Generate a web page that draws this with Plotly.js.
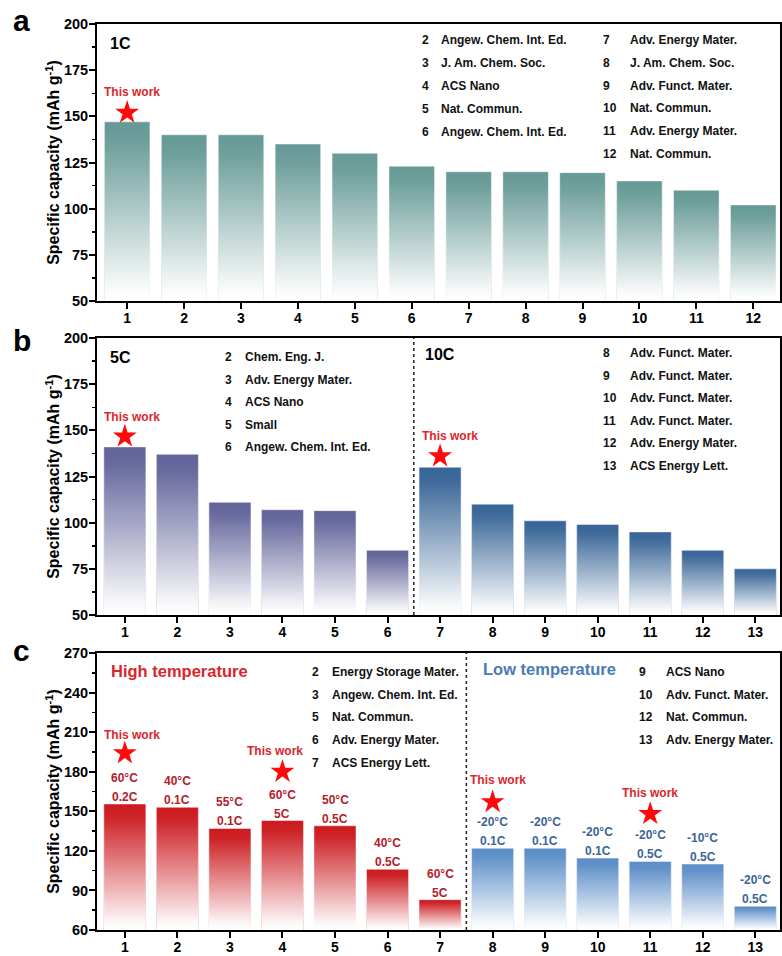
<!DOCTYPE html>
<html><head><meta charset="utf-8">
<script src="https://cdn.plot.ly/plotly-3.0.1.min.js"></script>
<style>html,body{margin:0;padding:0;background:#fff}#chart{width:782px;height:956px}</style>
</head><body><div id="chart"></div>
<script>
// ---------------- DATA ----------------
const xA = [1,2,3,4,5,6,7,8,9,10,11,12];
const valsA = [147,140,140,135,130,123,120,120,119.5,115,110,102];
const refNumA = ['2','3','4','5','6','7','8','9','10','11','12'];
const refNameA = ['Angew. Chem. Int. Ed.','J. Am. Chem. Soc.','ACS Nano','Nat. Commun.','Angew. Chem. Int. Ed.',
  'Adv. Energy Mater.','J. Am. Chem. Soc.','Adv. Funct. Mater.','Nat. Commun.','Adv. Energy Mater.','Nat. Commun.'];
const starA = {x:[1], y:[152]};
const workLabelA = {x:[1.09], y:[163]};

const xB = [1,2,3,4,5,6,7,8,9,10,11,12,13];
const valsB = [141,137,111,107,106.5,85,130,110,101,99,95,85,75];
const refNumB = ['2','3','4','5','6','8','9','10','11','12','13'];
const refNameB = ['Chem. Eng. J.','Adv. Energy Mater.','ACS Nano','Small','Angew. Chem. Int. Ed.',
  'Adv. Funct. Mater.','Adv. Funct. Mater.','Adv. Funct. Mater.','Adv. Funct. Mater.','Adv. Energy Mater.','ACS Energy Lett.'];
const starB = {x:[1,7], y:[146.7,136]};
const workLabelB = {x:[1.14,7.19], y:[157,147]};

const xC = [1,2,3,4,5,6,7,8,9,10,11,12,13];
const valsC = [155.5,153,137,143,139,106,83,122,122,114.5,112,110,78];
const tempC = ['60°C','40°C','55°C','60°C','50°C','40°C','60°C','-20°C','-20°C','-20°C','-20°C','-10°C','-20°C'];
const rateC = ['0.2C','0.1C','0.1C','5C','0.5C','0.5C','5C','0.1C','0.1C','0.1C','0.5C','0.5C','0.5C'];
const refNumC = ['2','3','5','6','7','9','10','12','13'];
const refNameC = ['Energy Storage Mater.','Angew. Chem. Int. Ed.','Nat. Commun.','Adv. Energy Mater.','ACS Energy Lett.',
  'ACS Nano','Adv. Funct. Mater.','Nat. Commun.','Adv. Energy Mater.'];
const starC = {x:[1,4,8,11], y:[194,180,157,148]};
const workLabelC = {x:[1.13,3.86,8.1,11], y:[208,196,174,164]};

// ---------------- STYLE ----------------
const FONT = 'Liberation Sans, Arial, Helvetica, sans-serif';
const W = 782, H = 956;
const PX = x => x / W, PY = y => 1 - y / H;
const TEAL = '#669a96', PURPLE = '#62649a', BLUE = '#386597', RED = '#cc1a1f', LBLUE = '#5b8dc8';
const LABRED = '#b3202a', LABBLUE = '#3b6596', STAR = '#ff0a0a', WORK = '#d9262c';
const BARW = 0.8;
const fade = [[0,'rgba(255,255,255,1)'],[0.06,'rgba(255,255,255,0.97)'],[0.9,'rgba(255,255,255,0.04)'],[1,'rgba(255,255,255,0)']];

const panels = [
  {k:'',  x:xA, y:valsA, colors:xA.map(()=>TEAL), yr:[50,200], dtick:25, minor:12.5, xr:[0.47,12.47], top:24,  bottom:301,
   star:starA, work:workLabelA},
  {k:'2', x:xB, y:valsB, colors:xB.map(v=>v<=6?PURPLE:BLUE), yr:[50,200], dtick:25, minor:12.5, xr:[0.47,13.47], top:338, bottom:615,
   star:starB, work:workLabelB},
  {k:'3', x:xC, y:valsC, colors:xC.map(v=>v<=7?RED:LBLUE), yr:[60,270], dtick:30, minor:15, xr:[0.47,13.47], top:653, bottom:930,
   star:starC, work:workLabelC}
];

const traces = [];
const layout = {
  width:W, height:H, margin:{l:0,r:0,t:0,b:0}, showlegend:false,
  paper_bgcolor:'#fff', plot_bgcolor:'#fff', font:{family:FONT, color:'#000'},
  annotations:[], shapes:[]
};

panels.forEach(p => {
  const xa = 'x'+p.k, ya = 'y'+p.k;
  traces.push({type:'bar', x:p.x, y:p.y, xaxis:xa, yaxis:ya, width:BARW,
    marker:{color:p.colors, line:{color:'rgba(255,255,255,0.45)', width:1}}, hoverinfo:'x+y'});
  p.x.forEach((xi, i) => {
    const lo = p.yr[0], v = p.y[i], a = xi - BARW/2, b = xi + BARW/2;
    traces.push({type:'scatter', mode:'lines', xaxis:xa, yaxis:ya,
      x:[a,a,b,b,a], y:[lo,v,v,lo,lo], fill:'toself', line:{width:0},
      fillgradient:{type:'vertical', colorscale:fade}, hoverinfo:'skip'});
  });
  traces.push({type:'scatter', mode:'markers', xaxis:xa, yaxis:ya, x:p.star.x, y:p.star.y,
    marker:{symbol:'star', size:18, color:STAR, line:{width:0}}, hoverinfo:'skip'});
  p.work.x.forEach((wx, i) => layout.annotations.push({xref:xa, yref:ya, x:wx, y:p.work.y[i], text:'This work',
    showarrow:false, font:{family:FONT, size:12, color:WORK, weight:'bold'}}));

  layout['xaxis'+p.k] = {domain:[PX(97), PX(780)], anchor:ya, range:p.xr, tickvals:p.x,
    ticks:'outside', ticklen:6, tickwidth:2, tickcolor:'#000', showline:true, linewidth:2, linecolor:'#000',
    mirror:true, showgrid:false, zeroline:false, fixedrange:true, ticklabelstandoff:-3,
    tickfont:{family:FONT, size:14, color:'#000', weight:'bold'}};
  layout['yaxis'+p.k] = {domain:[PY(p.bottom), PY(p.top)], anchor:xa, range:p.yr, tick0:p.yr[0], dtick:p.dtick,
    ticks:'outside', ticklen:6, tickwidth:2, tickcolor:'#000', showline:true, linewidth:2, linecolor:'#000',
    mirror:true, showgrid:false, zeroline:false, fixedrange:true, ticklabelstandoff:-2,
    minor:{tick0:p.yr[0], dtick:p.minor, ticks:'outside', ticklen:3, tickwidth:1.5, tickcolor:'#000', showgrid:false},
    tickfont:{family:FONT, size:14.5, color:'#000', weight:'bold'},
    title:{text:'Specific capacity (mAh g<sup>-1</sup>)', standoff:0, font:{family:FONT, size:16, color:'#000', weight:'bold'}}};
});

// divider lines
layout.shapes.push({type:'line', xref:'x2', yref:'y2 domain', x0:6.5, x1:6.5, y0:0, y1:1, line:{color:'#222', width:1.5, dash:'dot'}});
layout.shapes.push({type:'line', xref:'x3', yref:'y3 domain', x0:7.5, x1:7.5, y0:0, y1:1, line:{color:'#222', width:1.5, dash:'dot'}});

// temperature / rate labels panel c
xC.forEach((xi, i) => {
  const col = xi <= 7 ? LABRED : LABBLUE;
  layout.annotations.push({xref:'x3', yref:'y3', x:xi, y:valsC[i], yshift:26, yanchor:'middle', text:tempC[i],
    showarrow:false, font:{family:FONT, size:12, color:col, weight:'bold'}});
  layout.annotations.push({xref:'x3', yref:'y3', x:xi, y:valsC[i], yshift:7, yanchor:'middle', text:rateC[i],
    showarrow:false, font:{family:FONT, size:12, color:col, weight:'bold'}});
});

// paper text helper
function txt(text, xpx, ypx, size, color, anchor) {
  layout.annotations.push({xref:'paper', yref:'paper', x:PX(xpx), y:PY(ypx), text:text, showarrow:false,
    xanchor:anchor || 'left', yanchor:'middle', font:{family:FONT, size:size, color:color, weight:'bold'}});
}
// panel letters
txt('a', 11, 21, 30, '#000');
txt('b', 11, 340.5, 30, '#000');
txt('c', 11, 650.5, 30, '#000');
// panel headers
txt('1C', 108, 44, 16, '#000');
txt('5C', 108, 357, 16, '#000');
txt('10C', 423, 354, 16, '#000');
txt('High temperature', 109, 671, 16.5, '#d9262c');
txt('Low temperature', 481, 669, 16.5, '#4a7bb3');

// reference lists
function refs(nums, names, split, c1, c2) {
  nums.forEach((n, i) => {
    const c = i < split ? c1 : c2, r = i < split ? i : i - split;
    const y = c.y0 + r * c.dy;
    txt(n, c.nx, y, 12, '#111');
    txt(names[i], c.tx, y, 12, '#111');
  });
}
refs(refNumA, refNameA, 5, {nx:420, tx:439, y0:40.5, dy:22.8}, {nx:601, tx:628, y0:40, dy:22.8});
refs(refNumB, refNameB, 5, {nx:223, tx:243, y0:357, dy:22.6}, {nx:601, tx:628, y0:353.3, dy:22.5});
refs(refNumC, refNameC, 5, {nx:310, tx:330, y0:672, dy:22.7}, {nx:637, tx:663.5, y0:671.7, dy:22.8});

Plotly.newPlot('chart', traces, layout, {staticPlot:true, displayModeBar:false});
</script>
</body></html>
